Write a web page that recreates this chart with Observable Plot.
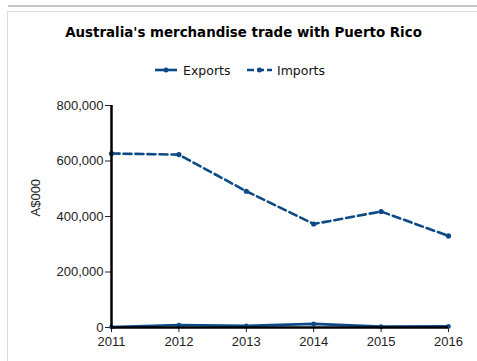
<!DOCTYPE html>
<html>
<head>
<meta charset="utf-8">
<script src="https://cdn.jsdelivr.net/npm/d3@7"></script>
<script src="https://cdn.jsdelivr.net/npm/@observablehq/plot@0.6"></script>
<style>
  html, body { margin: 0; padding: 0; background: #fff; }
  #wrap { position: relative; width: 477px; height: 361px; overflow: hidden; font-family: "Liberation Sans", Arial, sans-serif; }
  #topbar { position: absolute; left: 8px; top: 5px; width: 469px; height: 2px; background: #c6c6c6; }
  #panel { position: absolute; left: 7px; top: 11px; width: 475px; height: 360px; border-left: 1px solid #dcdcdc; border-top: 1px solid #dcdcdc; }
  #title { position: absolute; left: 0; width: 487px; top: 25px; text-align: center; font-family: "DejaVu Sans", Verdana, sans-serif; font-weight: bold; font-size: 13.4px; color: #000; }
  #legend { position: absolute; top: 62px; left: 0; width: 477px; }
  #chart { position: absolute; left: 0; top: 0; }
</style>
</head>
<body>
<div id="wrap">
  <div id="topbar"></div>
  <div id="panel"></div>
  <div id="chart"></div>
  <div id="title">Australia's merchandise trade with Puerto Rico</div>
  <svg id="legend" width="477" height="20"></svg>
</div>
<script>
const years = [2011, 2012, 2013, 2014, 2015, 2016];
const exportsVals = [2000, 9000, 6000, 13000, 3000, 4000];
const importsVals = [627000, 623000, 491000, 373000, 418000, 330000];
const seriesNames = ["Exports", "Imports"];
const yTicks = [0, 200000, 400000, 600000, 800000];
const yLabel = "A$000";

const color = "#0b4a86";
const fmtY = d3.format(",");
const fmtX = d3.format("d");
const rows = [];
years.forEach((y, i) => {
  rows.push({year: y, value: exportsVals[i], series: seriesNames[0]});
  rows.push({year: y, value: importsVals[i], series: seriesNames[1]});
});
const exp = rows.filter(d => d.series === "Exports");
const imp = rows.filter(d => d.series === "Imports");

const chart = Plot.plot({
  width: 477,
  height: 361,
  marginLeft: 111,
  marginRight: 29,
  marginTop: 105,
  marginBottom: 34,
  style: {fontFamily: "'Liberation Sans', Arial, sans-serif", fontSize: "13px", color: "#222", background: "transparent"},
  x: {domain: [2011, 2016]},
  y: {domain: [0, 800000]},
  marks: [
    Plot.axisY({ticks: yTicks, tickFormat: fmtY, tickSize: 6, tickPadding: 2, label: null, fontSize: 13}),
    Plot.axisX({ticks: years, tickFormat: fmtX, tickSize: 5, tickPadding: 4, label: null, fontSize: 13}),
    Plot.text([yLabel], {frameAnchor: "left", dx: -76, rotate: -90, fontSize: 13, fill: "#222"}),
    Plot.line(imp, {x: "year", y: "value", stroke: color, strokeWidth: 2.6, strokeDasharray: "8,4"}),
    Plot.dot(imp, {x: "year", y: "value", fill: color, r: 2.6}),
    Plot.line(exp, {x: "year", y: "value", stroke: color, strokeWidth: 2.6}),
    Plot.dot(exp, {x: "year", y: "value", fill: color, r: 2.3}),
    Plot.ruleY([0], {stroke: "#000", strokeWidth: 2.5}),
    Plot.ruleX([2011], {stroke: "#000", strokeWidth: 2.5})
  ]
});
document.getElementById("chart").appendChild(chart);

// legend
const lg = d3.select("#legend");
const items = [
  {name: seriesNames[0], x0: 155, x1: 177, dash: null, tx: 183},
  {name: seriesNames[1], x0: 247, x1: 272, dash: "7,3", tx: 277}
];
items.forEach(it => {
  lg.append("line").attr("x1", it.x0).attr("x2", it.x1).attr("y1", 8).attr("y2", 8)
    .attr("stroke", color).attr("stroke-width", 2.6).attr("stroke-dasharray", it.dash);
  lg.append("circle").attr("cx", (it.x0 + it.x1) / 2).attr("cy", 8).attr("r", 2.5).attr("fill", color);
  lg.append("text").attr("x", it.tx).attr("y", 13).text(it.name)
    .attr("font-family", "'DejaVu Sans', Verdana, sans-serif").attr("font-size", 12.5).attr("fill", "#111");
});
</script>
</body>
</html>
